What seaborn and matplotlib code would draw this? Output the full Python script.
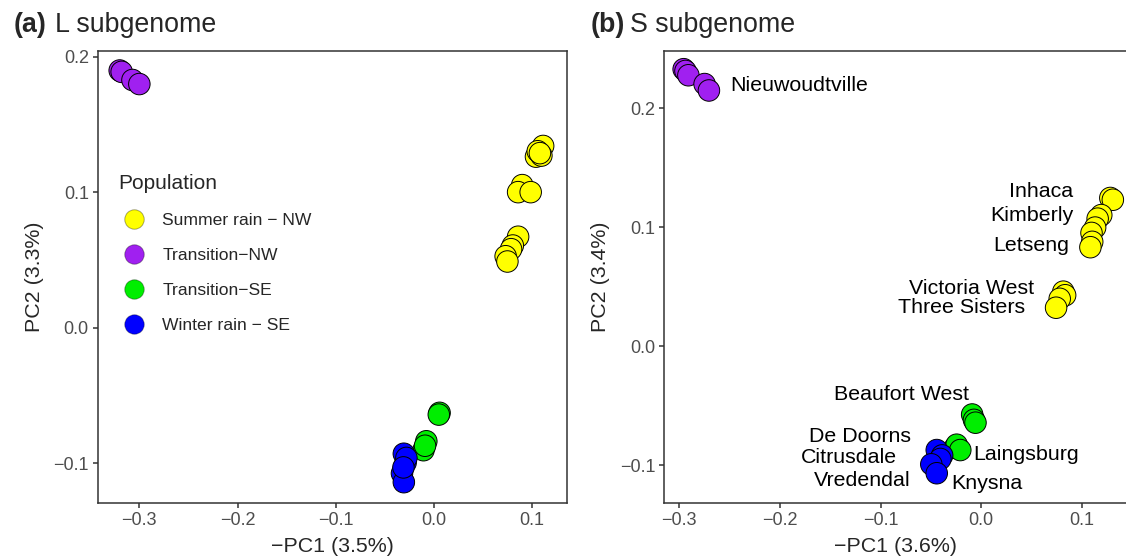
import matplotlib
matplotlib.use('Agg')
import matplotlib.pyplot as plt
from matplotlib.lines import Line2D
import seaborn as sns
import pandas as pd

populations = ['Summer rain − NW', 'Transition−NW', 'Transition−SE', 'Winter rain − SE']
pop_colors = ['#FFFF00', '#A020F0', '#00EE00', '#0000FF']

# L subgenome, panel (a)
l_pc1_summer = [0.1113, 0.104, 0.1095, 0.1058, 0.108, 0.090, 0.0858, 0.0986, 0.0858, 0.0804, 0.0786, 0.0731, 0.0749]
l_pc2_summer = [0.1343, 0.1264, 0.1272, 0.1304, 0.1290, 0.1054, 0.1002, 0.1002, 0.0673, 0.0608, 0.0581, 0.0529, 0.0490]
l_pc1_trans_nw = [-0.320, -0.318, -0.307, -0.300]
l_pc2_trans_nw = [0.190, 0.189, 0.183, 0.180]
l_pc1_trans_se = [0.0058, 0.0050, -0.0077, -0.0106, -0.0090]
l_pc2_trans_se = [-0.0627, -0.0640, -0.0837, -0.0903, -0.0870]
l_pc1_winter = [-0.0306, -0.0288, -0.0325, -0.0306, -0.0280, -0.0310]
l_pc2_winter = [-0.0929, -0.0995, -0.1074, -0.1139, -0.0960, -0.1030]

# S subgenome, panel (b)
s_pc1_summer = [0.1283, 0.1308, 0.1193, 0.1157, 0.1132, 0.1096, 0.1103, 0.1085, 0.0816, 0.0834, 0.078, 0.0744]
s_pc2_summer = [0.1246, 0.1231, 0.1102, 0.1072, 0.0997, 0.0952, 0.0877, 0.0832, 0.0458, 0.0428, 0.0398, 0.0323]
s_pc1_trans_nw = [-0.2957, -0.2939, -0.291, -0.2749, -0.2706]
s_pc2_trans_nw = [0.2329, 0.2314, 0.2278, 0.2204, 0.215]
s_pc1_trans_se = [-0.009, -0.0072, -0.0057, -0.0262, -0.0244, -0.0208]
s_pc2_trans_se = [-0.0575, -0.062, -0.0644, -0.0853, -0.0829, -0.0874]
s_pc1_winter = [-0.0442, -0.0388, -0.0406, -0.0496, -0.0442]
s_pc2_winter = [-0.0874, -0.0919, -0.0949, -0.0994, -0.1069]

# locality labels in panel (b)
site_names = ['Nieuwoudtville', 'Inhaca', 'Kimberly', 'Letseng', 'Victoria West', 'Three Sisters',
              'Beaufort West', 'De Doorns', 'Citrusdale', 'Vredendal', 'Laingsburg', 'Knysna']
site_x = [-0.249, 0.0913, 0.0913, 0.0877, 0.0528, 0.0438, -0.0126, -0.0693, -0.0837, -0.0700, -0.0083, -0.0298]
site_y = [0.2195, 0.1297, 0.1096, 0.0847, 0.0488, 0.0323, -0.0410, -0.0764, -0.0940, -0.1129, -0.0913, -0.1159]
site_ha = ['left', 'right', 'right', 'right', 'right', 'right', 'right', 'right', 'right', 'right', 'left', 'left']

l_xticks = [-0.3, -0.2, -0.1, 0.0, 0.1]
l_yticks = [-0.1, 0.0, 0.1, 0.2]
s_xticks = [-0.3, -0.2, -0.1, 0.0, 0.1]
s_yticks = [-0.1, 0.0, 0.1, 0.2]


def make_frame(groups):
    rows = []
    for pop, xs, ys in groups:
        rows += [{'pc1': x, 'pc2': y, 'pop': pop} for x, y in zip(xs, ys)]
    return pd.DataFrame(rows)


df_l = make_frame([
    (populations[0], l_pc1_summer, l_pc2_summer),
    (populations[1], l_pc1_trans_nw, l_pc2_trans_nw),
    (populations[2], l_pc1_trans_se, l_pc2_trans_se),
    (populations[3], l_pc1_winter, l_pc2_winter),
])
df_s = make_frame([
    (populations[0], s_pc1_summer, s_pc2_summer),
    (populations[1], s_pc1_trans_nw, s_pc2_trans_nw),
    (populations[2], s_pc1_trans_se, s_pc2_trans_se),
    (populations[3], s_pc1_winter, s_pc2_winter),
])

sns.set_style('ticks')
plt.rcParams['font.family'] = ['Liberation Sans', 'DejaVu Sans']

palette = dict(zip(populations, pop_colors))
edge = (0, 0, 0, 0.35)

fig = plt.figure(figsize=(11.26, 5.58), dpi=100)
ax_l = fig.add_axes([0.0866, 0.0980, 0.4167, 0.8106])
ax_s = fig.add_axes([0.5900, 0.0980, 0.4110, 0.8106])

for ax, df in [(ax_l, df_l), (ax_s, df_s)]:
    sns.scatterplot(data=df, x='pc1', y='pc2', hue='pop', palette=palette, s=240,
                    edgecolor=edge, linewidth=0.7, alpha=1, legend=False, ax=ax)
    for side in ['left', 'right', 'top', 'bottom']:
        ax.spines[side].set_visible(True)
        ax.spines[side].set_linewidth(1.1)
        ax.spines[side].set_color('#333333')
    ax.tick_params(labelsize=13, labelcolor='#4D4D4D', length=3.3, width=1.1,
                   color='#333333', pad=3)
    ax.grid(False)

ax_l.set_xlim(-0.3426, 0.1353)
ax_l.set_ylim(-0.1295, 0.2044)
ax_l.set_xticks(l_xticks)
ax_l.set_yticks(l_yticks)
ax_s.set_xlim(-0.3149, 0.145)
ax_s.set_ylim(-0.1322, 0.2482)
ax_s.set_xticks(s_xticks)
ax_s.set_yticks(s_yticks)

ax_l.set_xlabel('−PC1 (3.5%)', fontsize=15.4)
ax_l.set_ylabel('PC2 (3.3%)', fontsize=15.4)
ax_s.set_xlabel('−PC1 (3.6%)', fontsize=15.4)
ax_s.set_ylabel('PC2 (3.4%)', fontsize=15.4)
ax_l.xaxis.set_label_coords(0.5, -0.074)
ax_s.xaxis.set_label_coords(0.5, -0.074)
ax_l.yaxis.set_label_coords(-0.114, 0.5)
ax_s.yaxis.set_label_coords(-0.117, 0.5)

for name, x, y, ha in zip(site_names, site_x, site_y, site_ha):
    ax_s.text(x, y, name, ha=ha, va='center', fontsize=15.4, color='black')

handles = [Line2D([], [], marker='o', ls='', markerfacecolor=c, markeredgecolor=edge,
                  markeredgewidth=0.7, markersize=14) for c in pop_colors]
ax_l.legend(handles, populations, title='Population', loc='upper left',
            bbox_to_anchor=(0.0437, 0.728), frameon=False, borderpad=0, borderaxespad=0,
            fontsize=12.6, title_fontsize=15, handlelength=1.83, handletextpad=0.71,
            labelspacing=1.13, alignment='left')

fig.text(14 / 1126, 1 - 31.7 / 558, '(a)', fontsize=19.3, fontweight='bold', va='baseline')
fig.text(55 / 1126, 1 - 31.7 / 558, 'L subgenome', fontsize=19.3, va='baseline')
fig.text(590.7 / 1126, 1 - 31.7 / 558, '(b)', fontsize=19.3, fontweight='bold', va='baseline')
fig.text(630.4 / 1126, 1 - 31.7 / 558, 'S subgenome', fontsize=19.3, va='baseline')

fig.savefig('out.png', dpi=100)
